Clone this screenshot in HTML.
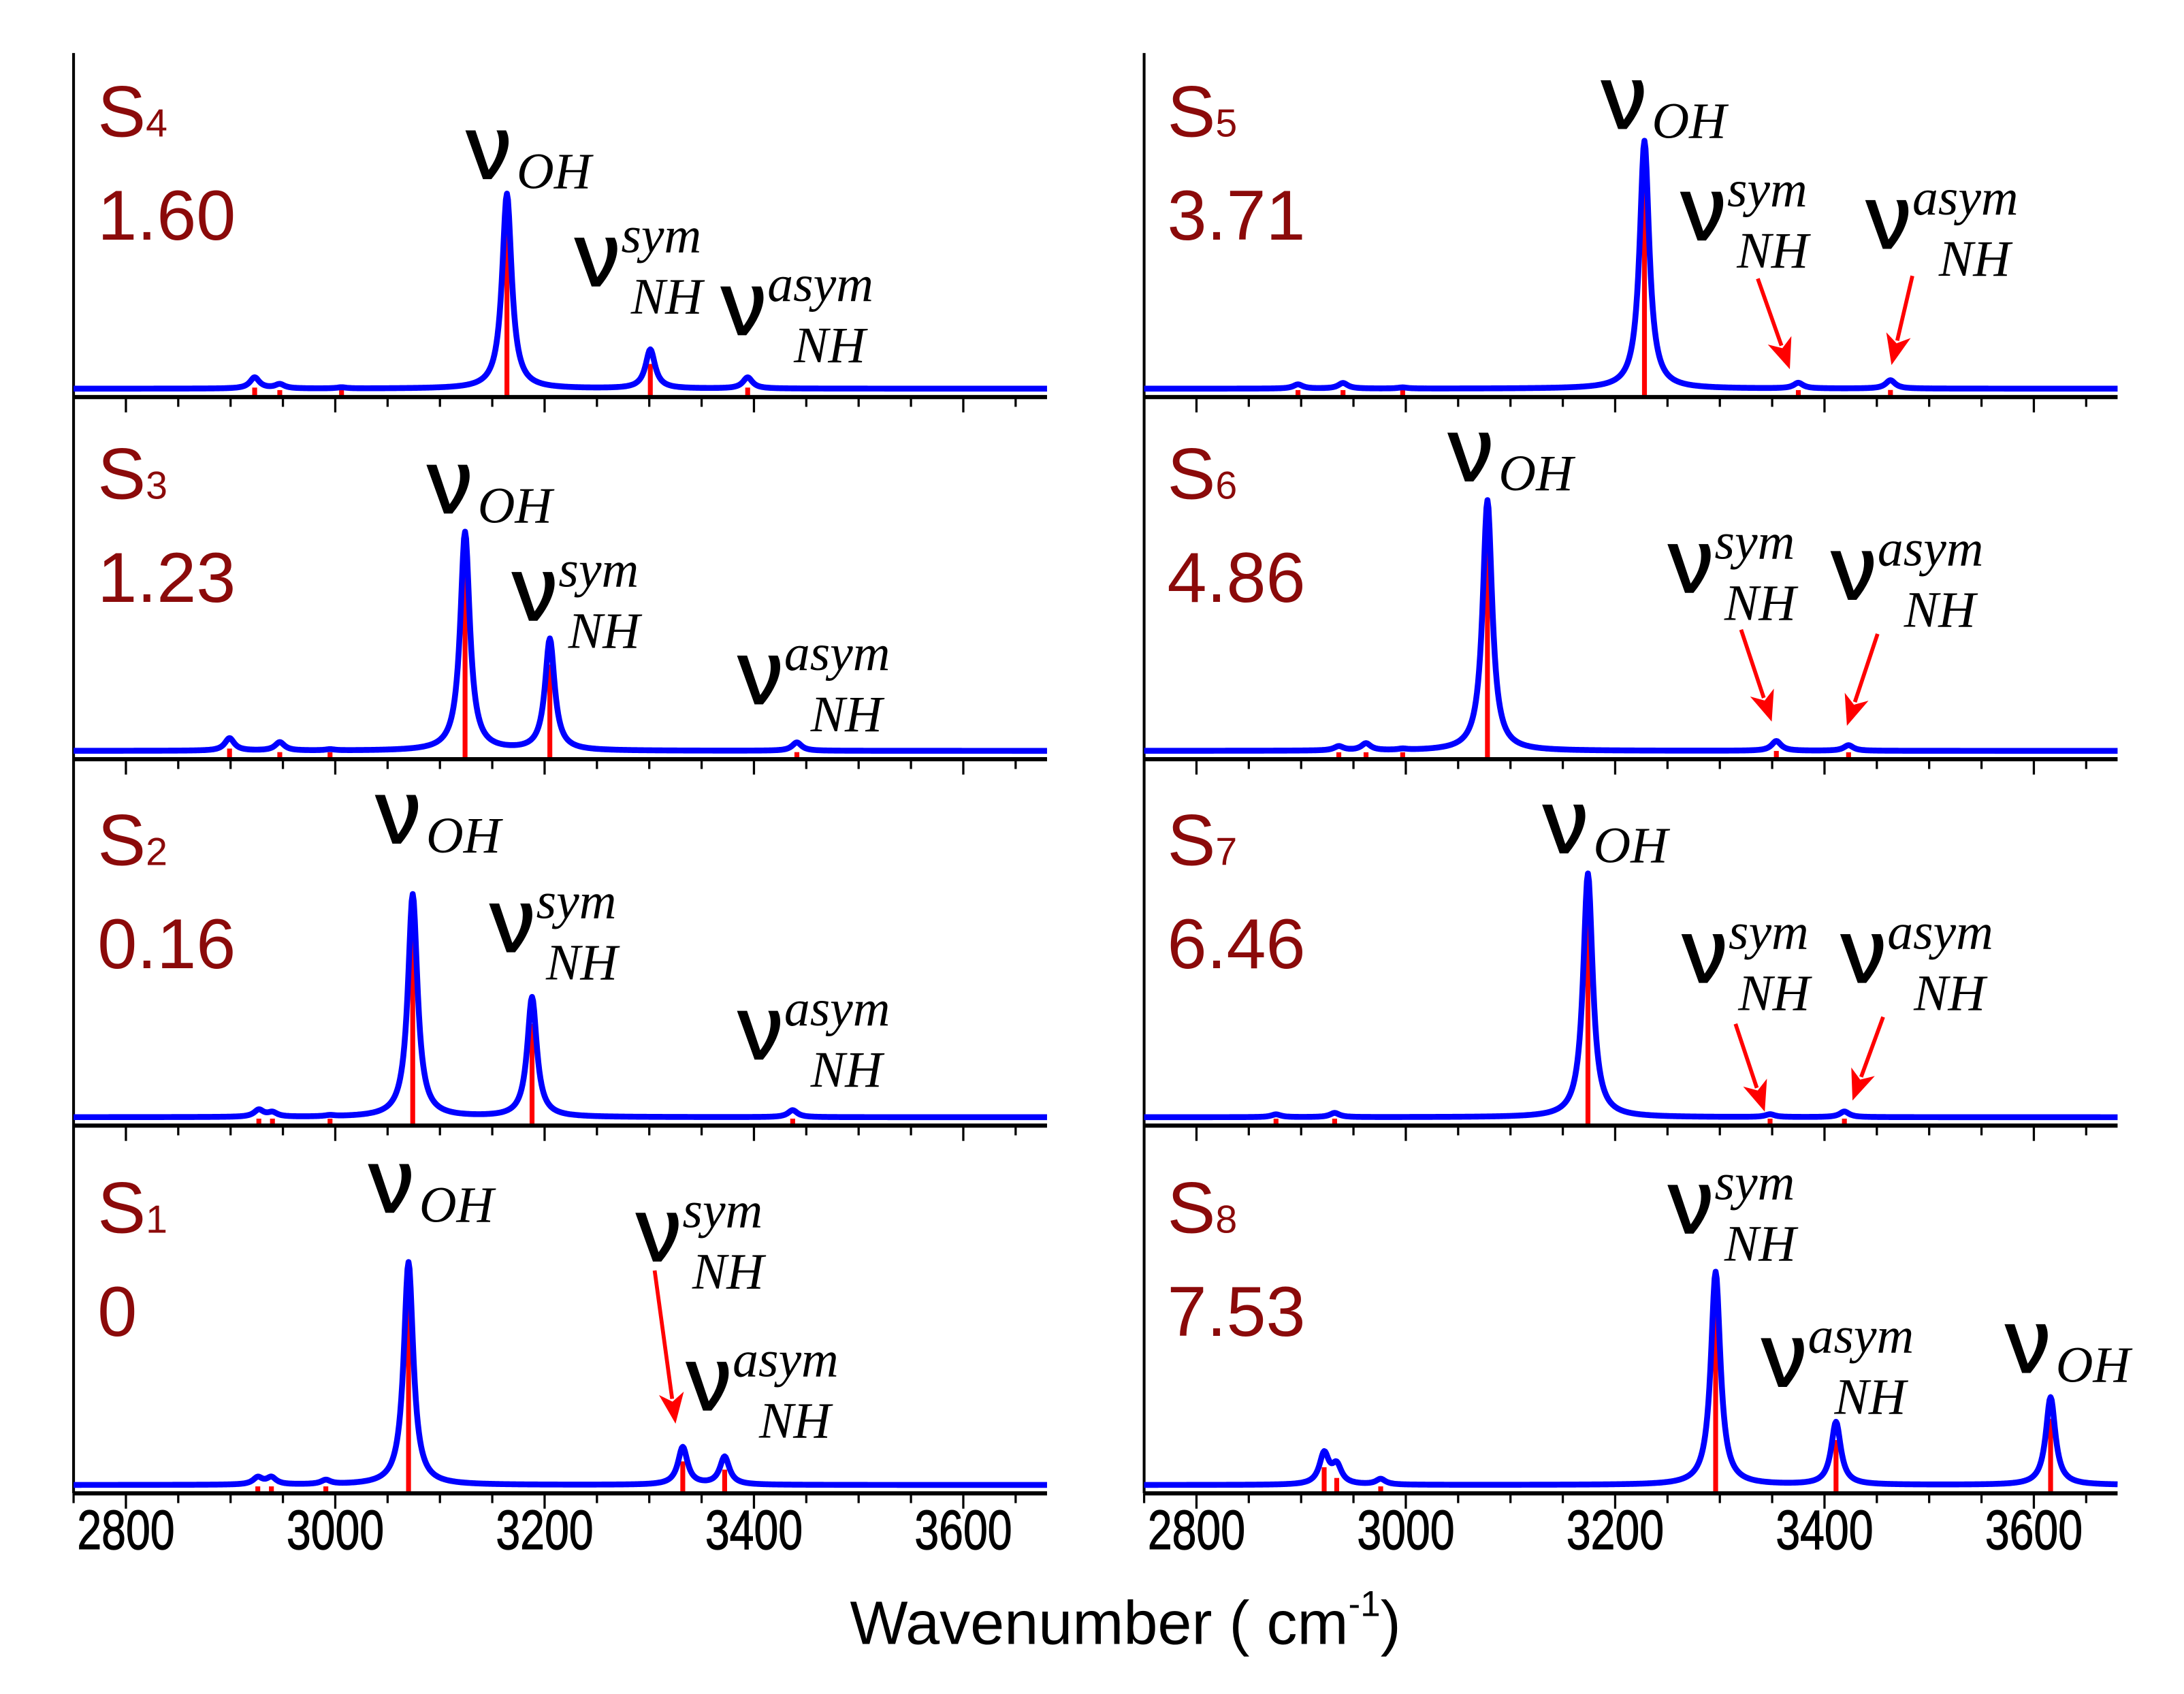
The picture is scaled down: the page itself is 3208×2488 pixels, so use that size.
<!DOCTYPE html>
<html><head><meta charset="utf-8"><style>
html,body{margin:0;padding:0;background:#fff;}
svg{display:block;}
</style></head><body>
<svg id="chart" xmlns="http://www.w3.org/2000/svg" width="3208" height="2488" viewBox="0 0 1568 1216">
<rect width="1568" height="1216" fill="#fff"/>
<g id="plots"></g>
<text x="808" y="1180" text-anchor="middle" font-family="Liberation Sans, sans-serif" font-size="44">Wavenumber  ( cm<tspan font-size="26" dy="-20">-1</tspan><tspan dy="20">)</tspan></text>
</svg>
<script>
// x-axis ticks
const tickMajor = [2800, 3000, 3200, 3400, 3600];
const tickLabels = ["2800", "3000", "3200", "3400", "3600"];
const xMin = 2750, xMax = 3680;
// panel names / energies
const panelNames = ["4", "3", "2", "1", "5", "6", "7", "8"];
const panelValues = ["1.60", "1.23", "0.16", "0", "3.71", "4.86", "6.46", "7.53"];
// peak frequencies (cm-1) and intensities per panel
const freqS4 = [2923, 2947, 3006, 3164, 3301, 3394];
const intS4  = [8, 3, 0.8, 140, 28, 8];
const freqS3 = [2899, 2947, 2995, 3124, 3205, 3441];
const intS3  = [9, 6, 0.8, 157, 80, 6];
const freqS2 = [2927, 2940, 2995, 3074, 3188, 3437];
const intS2  = [5, 3, 0.8, 160, 86, 5];
const freqS1 = [2926, 2939, 2991, 3070, 3332, 3372];
const intS1  = [5, 5, 3, 160, 27, 20];
const freqS5 = [2897, 2940, 2997, 3228, 3375, 3463];
const intS5  = [3, 4, 0.8, 178, 4, 6];
const freqS6 = [2936, 2962, 2997, 3078, 3354, 3423];
const intS6  = [3, 5, 0.8, 180, 7, 4];
const freqS7 = [2876, 2932, 3174, 3348, 3419];
const intS7  = [2, 3, 175, 2, 4];
const freqS8 = [2922, 2934, 2976, 3296, 3411, 3616];
const intS8  = [22, 13, 4, 153, 45, 63];

const freqs = [freqS4, freqS3, freqS2, freqS1, freqS5, freqS6, freqS7, freqS8];
const ints = [intS4, intS3, intS2, intS1, intS5, intS6, intS7, intS8];

const NS = "http://www.w3.org/2000/svg";
const root = document.getElementById("plots");
const axisY = [285, 545, 808, 1072];
const panelTop = 38;
const colX0 = [90.4, 859];
const pxPerUnit = 0.7515;
function mk(tag, attrs, parent) {
  const e = document.createElementNS(NS, tag);
  for (const k in attrs) e.setAttribute(k, attrs[k]);
  (parent || root).appendChild(e);
  return e;
}
function xScale(col, f) { return colX0[col] + (f - 2800) * pxPerUnit; }

const labels = [
  [0,"OH",335,128],[0,"sym",413,205],[0,"asym",518,240],
  [1,"OH",307,368],[1,"sym",368,445],[1,"asym",530,505],
  [2,"OH",270,605],[2,"sym",352,683],[2,"asym",530,760],
  [3,"OH",265,870],[3,"sym",457,905],[3,"asym",493,1012],
  [4,"OH",1150,92],[4,"sym",1207,172],[4,"asym",1340,178],
  [5,"OH",1040,345],[5,"sym",1198,425],[5,"asym",1315,430],
  [6,"OH",1108,612],[6,"sym",1208,705],[6,"asym",1322,705],
  [7,"sym",1198,885],[7,"asym",1265,995],[7,"OH",1440,985]
];
const arrows = [
  [470,912,485,1022],
  [1262,200,1285,265],[1373,198,1358,262],
  [1250,452,1272,518],[1348,455,1326,521],
  [1246,735,1267,798],[1352,730,1330,790]
];

for (let col = 0; col < 2; col++) {
  const x0 = xScale(col, xMin), x1 = xScale(col, xMax);
  const yax = mk("line", {x1:x0, y1:panelTop, x2:x0, y2:axisY[3], stroke:"#000", "stroke-width":2});
  
  
  for (let r = 0; r < 4; r++) {
    const p = col * 4 + r;
    const ay = axisY[r];
    const base = ay - 6;
    const g = mk("g", {});
    
    
    freqs[p].forEach((f, i) => {
      const h = Math.max(ints[p][i] * 0.85, 5);
      const s = mk("line", {x1:xScale(col,f), x2:xScale(col,f), y1:ay, y2:ay - h, stroke:"#ff0000", "stroke-width":3.5}, g);
      
      
    });
    let d = "";
    for (let f = xMin; f <= xMax; f += 1) {
      let y = 0;
      freqs[p].forEach((f0, i) => { const t = (f - f0) / 5.5; y += ints[p][i] / (1 + t * t); });
      d += (f === xMin ? "M" : "L") + xScale(col, f).toFixed(2) + "," + (base - y).toFixed(2);
    }
    const c = mk("path", {d:d, fill:"none", stroke:"#0000ff", "stroke-width":4.2, "stroke-linejoin":"round"}, g);
    
    
    const ax = mk("line", {x1:x0, x2:x1, y1:ay, y2:ay, stroke:"#000", "stroke-width":3}, g);
    
    
    for (let f = xMin; f <= xMax; f += 50) {
      const major = (f % 200 === 0);
      const t = mk("line", {x1:xScale(col,f), x2:xScale(col,f), y1:ay, y2:ay + (major ? 11 : 7), stroke:"#000", "stroke-width":1.6}, g);
      
      
    }
    if (r === 3) {
      tickMajor.forEach((f, i) => {
        const tl = mk("text", {x:xScale(col,f), y:1112, "text-anchor":"middle", "font-family":"Liberation Sans, sans-serif", "font-size":40, textLength:70, lengthAdjust:"spacingAndGlyphs", stroke:"#000", "stroke-width":0.6}, g);
        tl.textContent = tickLabels[i];
        
        
      });
    }
    const lx = col === 0 ? 70 : 838;
    const st = mk("text", {x:lx, y:ay - 187, fill:"#8b0a0a", "font-family":"Liberation Sans, sans-serif", "font-size":52}, g);
    st.innerHTML = 'S<tspan font-size="28">' + panelNames[p] + '</tspan>';
    
    
    const sv = mk("text", {x:lx, y:ay - 113, fill:"#8b0a0a", "font-family":"Liberation Sans, sans-serif", "font-size":51}, g);
    sv.textContent = panelValues[p];
    
    
  }
}

labels.forEach(l => {
  const [p, type, x, y] = l;
  const g = mk("g", {});
  
  
  const nu = mk("text", {x:x, y:y, "font-family":"Liberation Sans, DejaVu Sans, sans-serif", "font-size":64, stroke:"#000", "stroke-width":1.2}, g);
  nu.textContent = "ν";
  const it = {"font-family":"Liberation Serif, serif", "font-style":"italic", "font-size":37};
  if (type === "OH") {
    const s = mk("text", Object.assign({x:x + 36, y:y + 7}, it), g);
    s.textContent = "OH";
  } else {
    const sup = mk("text", Object.assign({x:x + 33, y:y - 24}, it), g);
    sup.textContent = type;
    const sub = mk("text", Object.assign({x:x + (type === "sym" ? 40 : 52), y:y + 20}, it), g);
    sub.textContent = "NH";
  }
});

arrows.forEach(a => {
  const [x1, y1, x2, y2] = a;
  const g = mk("g", {});
  
  
  const dx = x2 - x1, dy = y2 - y1, L = Math.hypot(dx, dy), ux = dx / L, uy = dy / L;
  const hl = 22, hw = 9;
  const bx = x2 - ux * hl, by = y2 - uy * hl;
  mk("line", {x1:x1, y1:y1, x2:bx + ux * 4, y2:by + uy * 4, stroke:"#ff0000", "stroke-width":2.8}, g);
  mk("path", {d:`M${x2},${y2} L${bx - uy * hw},${by + ux * hw} L${bx + ux * 6},${by + uy * 6} L${bx + uy * hw},${by - ux * hw}Z`, fill:"#ff0000"}, g);
});
</script>
</body></html>
